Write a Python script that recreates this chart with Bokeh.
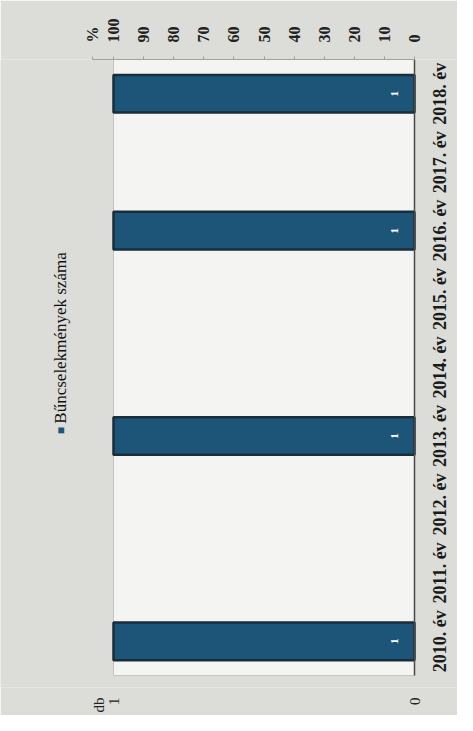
import math
from bokeh.plotting import figure
from bokeh.models import (Range1d, LinearAxis, FixedTicker, ColumnDataSource)
from bokeh.core.properties import value
from bokeh.embed import file_html
from bokeh.resources import INLINE

years = ["2010. év", "2011. év", "2012. év", "2013. év", "2014. év",
         "2015. év", "2016. év", "2017. év", "2018. év"]
counts = [1, 0, 0, 1, 0, 0, 1, 0, 1]
pct_ticks = [0, 10, 20, 30, 40, 50, 60, 70, 80, 90, 100]
db_ticks = [0, 1]
series_name = "Bűncselekmények száma"

BAR = "#1d5579"
EDGE = "#1a2d3b"
SERIF = "Liberation Serif"
UP = math.pi / 2

# ---- layout (pixels) ----
W, H = 457, 715
AREA_L, AREA_R = 113, 414      # plot area left/right (value 1 .. value 0)
AREA_T, AREA_B = 59, 678       # plot area top/bottom
FRAME_B = 690                  # frame bottom (room for category labels)

n = len(years)
pos = list(range(1, n + 1))
vmax = max(db_ticks)
px_x = (AREA_R - AREA_L) / vmax
px_y = (AREA_B - AREA_T) / n
x_start = vmax + AREA_L / px_x
x_end = -(W - AREA_R) / px_x
y_end = n + 0.5
y_start = y_end - (FRAME_B - AREA_T) / px_y

p = figure(width=W, height=H, output_backend="svg", toolbar_location=None,
           x_range=Range1d(x_start, x_end), y_range=Range1d(y_start, y_end),
           x_axis_location="below", y_axis_location=None,
           min_border_left=0, min_border_right=0,
           min_border_top=AREA_T, min_border_bottom=H - FRAME_B)

p.background_fill_color = "#dcdcd8"
p.border_fill_color = "#dcdcd8"
p.outline_line_color = None
p.xgrid.grid_line_color = None
p.ygrid.grid_line_color = None

# plot area box
p.quad(left=[vmax], right=[0], bottom=[0.5], top=[n + 0.5],
       fill_color="#f4f4f2", line_color="#c4c4c0", line_width=1)

# bars (only non-empty years carry a bar)
bar_y = [y for y, c in zip(pos, counts) if c > 0]
bar_v = [c for c in counts if c > 0]
src = ColumnDataSource(dict(y=bar_y, v=bar_v, t=[str(c) for c in bar_v], x0=[0] * len(bar_y)))
p.hbar(y="y", left="x0", right="v", height=0.55, source=src,
       fill_color=BAR, line_color=EDGE, line_width=2.5)

# category axis line on the right
p.segment(x0=[0], y0=[0.5], x1=[0], y1=[n + 0.5], line_color="#4a4a4a", line_width=1.5)

# category labels (rotated, right side)
p.text(x=[0] * n, y=pos, text=years, angle=UP, x_offset=25,
       text_align="center", text_baseline="middle",
       text_color="#1a1a1a", text_font=value(SERIF), text_font_style="bold",
       text_font_size="18px")

# value labels inside bars
p.text(x="x0", y="y", text="t", source=src, angle=UP,
       x_offset=-20, text_align="center", text_baseline="middle",
       text_color="white", text_font=value(SERIF), text_font_style="bold",
       text_font_size="11px")

# legend (rotated, left of plot area)
leg_y = 4.08
p.text(x=[vmax], y=[leg_y], text=["■"], angle=UP, x_offset=-53,
       text_align="center", text_baseline="middle",
       text_color=BAR, text_font=value(SERIF), text_font_size="12px")
p.text(x=[vmax], y=[leg_y + 0.1], text=[series_name], angle=UP, x_offset=-53,
       text_align="left", text_baseline="middle",
       text_color="#111111", text_font=value(SERIF), text_font_size="17px")

# bottom "db" axis
db_title_at = vmax + 15 / px_x
xa = p.xaxis[0]
xa.ticker = FixedTicker(ticks=db_ticks + [db_title_at])
xa.major_label_overrides = {db_title_at: "db"}
xa.bounds = (0, db_title_at)
xa.major_label_orientation = UP
xa.axis_line_color = None
xa.major_tick_line_color = None
xa.minor_tick_line_color = None
xa.major_label_standoff = 4
xa.major_label_text_font = SERIF
xa.major_label_text_font_size = "15px"
xa.major_label_text_color = "#222222"

# top "%" axis, same scale
pct_title_at = vmax + 21 / px_x
top_ticks = [t / 100 * vmax for t in pct_ticks]
top = LinearAxis(ticker=FixedTicker(ticks=top_ticks + [pct_title_at]),
                 major_label_overrides={**{tv: str(t) for tv, t in zip(top_ticks, pct_ticks)},
                                        pct_title_at: "%"},
                 bounds=(0, pct_title_at))
top.major_label_orientation = UP
top.axis_line_color = "#a0a0a0"
top.major_tick_line_color = "#a0a0a0"
top.major_tick_out = 3
top.major_tick_in = 0
top.minor_tick_line_color = None
top.major_label_standoff = 14
top.major_label_text_font = SERIF
top.major_label_text_font_style = "bold"
top.major_label_text_font_size = "16px"
top.major_label_text_color = "#222222"
p.add_layout(top, "above")

open("out.html", "w").write(file_html(p, INLINE))
